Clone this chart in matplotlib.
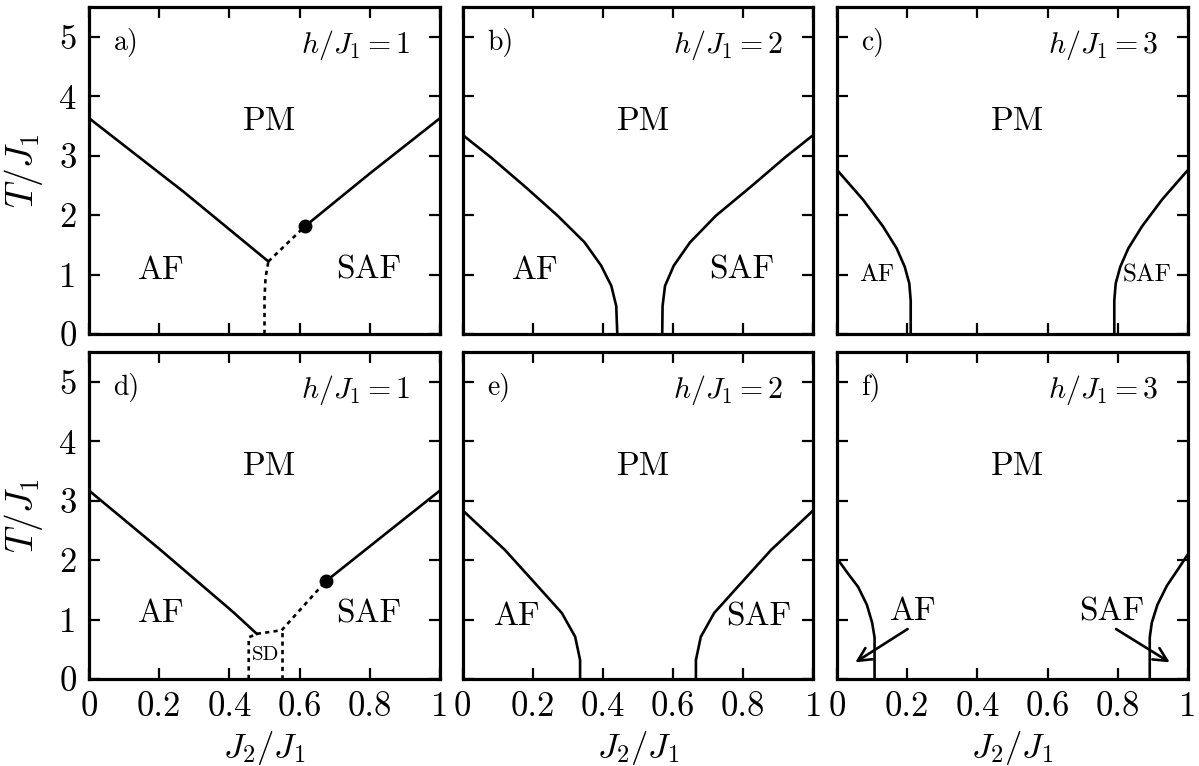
import matplotlib
matplotlib.use("Agg")
import matplotlib.pyplot as plt

plt.rcParams.update({
    "font.family": "serif",
    "font.serif": ["cmr10"],
    "mathtext.fontset": "cm",
    "axes.formatter.use_mathtext": True,
    "axes.unicode_minus": False,
})

# ---- phase boundaries (x = J2/J1, y = T/J1) ----
# a) h/J1 = 1
a_af_x = [0.0, 0.27, 0.511]
a_af_y = [3.63, 2.39, 1.22]
a_saf_x = [0.615, 0.798, 1.0]
a_saf_y = [1.81, 2.69, 3.63]
a_dash1_x = [0.50, 0.50, 0.503, 0.511]
a_dash1_y = [0.0, 0.6, 0.95, 1.22]
a_dash2_x = [0.511, 0.615]
a_dash2_y = [1.22, 1.81]
a_point = (0.615, 1.81)

# b) h/J1 = 2
b_y = [3.35, 2.97, 2.49, 1.99, 1.54, 1.15, 0.81, 0.47, 0.0]
b_af_x = [0.0, 0.081, 0.176, 0.271, 0.348, 0.395, 0.424, 0.438, 0.441]
b_saf_x = [1.0, 0.919, 0.824, 0.722, 0.648, 0.602, 0.577, 0.570, 0.569]

# c) h/J1 = 3
c_y = [2.76, 2.26, 1.81, 1.44, 1.13, 0.85, 0.56, 0.0]
c_af_x = [0.0, 0.074, 0.131, 0.170, 0.193, 0.206, 0.210, 0.210]
c_saf_x = [1.0, 0.926, 0.869, 0.830, 0.807, 0.794, 0.790, 0.790]

# d) h/J1 = 1
d_af_x = [0.0, 0.20, 0.41, 0.478]
d_af_y = [3.17, 2.19, 1.13, 0.76]
d_saf_x = [0.674, 0.84, 1.0]
d_saf_y = [1.64, 2.42, 3.17]
d_sd_left_x = [0.455, 0.455, 0.478]
d_sd_left_y = [0.0, 0.70, 0.76]
d_sd_top_x = [0.478, 0.549]
d_sd_top_y = [0.76, 0.82]
d_sd_right_x = [0.549, 0.549]
d_sd_right_y = [0.0, 0.82]
d_dash_x = [0.549, 0.674]
d_dash_y = [0.82, 1.64]
d_point = (0.674, 1.64)

# e) h/J1 = 2
e_y = [2.84, 2.17, 1.55, 1.11, 0.71, 0.32, 0.0]
e_af_x = [0.0, 0.121, 0.216, 0.283, 0.321, 0.335, 0.335]
e_saf_x = [1.0, 0.879, 0.784, 0.717, 0.679, 0.665, 0.665]

# f) h/J1 = 3
f_af_x = [0.0, 0.028, 0.060, 0.085, 0.100, 0.107, 0.107]
f_af_y = [2.03, 1.80, 1.55, 1.25, 0.95, 0.70, 0.0]
f_saf_x = [1.0, 0.972, 0.940, 0.913, 0.897, 0.891, 0.891]
f_saf_y = [2.10, 1.85, 1.57, 1.25, 0.95, 0.70, 0.0]

panel_tags = ["a)", "b)", "c)", "d)", "e)", "f)"]
field_values = [1, 2, 3, 1, 2, 3]
x_ticks = [0, 0.2, 0.4, 0.6, 0.8, 1]
x_tick_labels = ["0", "0.2", "0.4", "0.6", "0.8", "1"]
y_ticks = [0, 1, 2, 3, 4, 5]
y_tick_labels = ["0", "1", "2", "3", "4", "5"]

LW = 1.9
DOT = (0, (1.6, 1.6))
BIG = 24

fig = plt.figure(figsize=(11.99, 7.66), dpi=100)
lefts = [89 / 1199, 462.5 / 1199, 837 / 1199]
w = 351 / 1199
h = 327 / 766
bottoms = [(766 - 334) / 766, (766 - 679) / 766]

axes = []
for r in range(2):
    for c in range(3):
        ax = fig.add_axes([lefts[c], bottoms[r], w, h])
        axes.append(ax)

for i, ax in enumerate(axes):
    ax.set_xlim(0, 1)
    ax.set_ylim(0, 5.5)
    ax.set_xticks(x_ticks)
    ax.set_yticks(y_ticks)
    ax.tick_params(direction="in", which="both", top=True, right=True,
                   length=8, width=1.6, labelsize=25, pad=9)
    for s in ax.spines.values():
        s.set_linewidth(2.3)
    if i >= 3:
        ax.set_xticklabels(x_tick_labels)
        ax.set_xlabel(r"$J_2/J_1$", fontsize=25, labelpad=4)
    else:
        ax.set_xticklabels([])
    if i % 3 == 0:
        ax.set_yticklabels(y_tick_labels)
        ax.set_ylabel(r"$T/J_1$", fontsize=27, labelpad=10)
    else:
        ax.set_yticklabels([])
    ax.text(0.07, 4.9, panel_tags[i], fontsize=20, ha="left", va="center")
    ax.text(0.915, 4.86, r"$h/J_1 = %d$" % field_values[i], fontsize=21.5,
            ha="right", va="center")
    ax.text(0.515, 3.57, "PM", fontsize=BIG, ha="center", va="center")

axa, axb, axc, axd, axe, axf = axes

# a)
axa.plot(a_af_x, a_af_y, "k-", lw=LW)
axa.plot(a_saf_x, a_saf_y, "k-", lw=LW)
axa.plot(a_dash1_x, a_dash1_y, "k", lw=LW, ls=DOT)
axa.plot(a_dash2_x, a_dash2_y, "k", lw=LW, ls=DOT)
axa.plot(*a_point, "ko", ms=9)
axa.text(0.207, 1.07, "AF", fontsize=BIG, ha="center", va="center")
axa.text(0.796, 1.07, "SAF", fontsize=BIG, ha="center", va="center")

# b)
axb.plot(b_af_x, b_y, "k-", lw=LW)
axb.plot(b_saf_x, b_y, "k-", lw=LW)
axb.text(0.207, 1.07, "AF", fontsize=BIG, ha="center", va="center")
axb.text(0.796, 1.07, "SAF", fontsize=BIG, ha="center", va="center")

# c)
axc.plot(c_af_x, c_y, "k-", lw=LW)
axc.plot(c_saf_x, c_y, "k-", lw=LW)
axc.text(0.112, 0.99, "AF", fontsize=18, ha="center", va="center")
axc.text(0.883, 0.99, "SAF", fontsize=18, ha="center", va="center")

# d)
axd.plot(d_af_x, d_af_y, "k-", lw=LW)
axd.plot(d_saf_x, d_saf_y, "k-", lw=LW)
for xs, ys in [(d_sd_left_x, d_sd_left_y), (d_sd_top_x, d_sd_top_y),
               (d_sd_right_x, d_sd_right_y), (d_dash_x, d_dash_y)]:
    axd.plot(xs, ys, "k", lw=LW, ls=DOT)
axd.plot(*d_point, "ko", ms=9)
axd.text(0.207, 1.1, "AF", fontsize=BIG, ha="center", va="center")
axd.text(0.796, 1.1, "SAF", fontsize=BIG, ha="center", va="center")
axd.text(0.502, 0.41, "SD", fontsize=15, ha="center", va="center")

# e)
axe.plot(e_af_x, e_y, "k-", lw=LW)
axe.plot(e_saf_x, e_y, "k-", lw=LW)
axe.text(0.155, 1.05, "AF", fontsize=BIG, ha="center", va="center")
axe.text(0.843, 1.05, "SAF", fontsize=BIG, ha="center", va="center")

# f)
axf.plot(f_af_x, f_af_y, "k-", lw=LW)
axf.plot(f_saf_x, f_saf_y, "k-", lw=LW)
axf.text(0.218, 1.13, "AF", fontsize=BIG, ha="center", va="center")
axf.text(0.783, 1.13, "SAF", fontsize=BIG, ha="center", va="center")
arrow_kw = dict(arrowstyle="->", lw=1.9, color="k", mutation_scale=24,
                shrinkA=0, shrinkB=0)
axf.annotate("", xy=(0.052, 0.28), xytext=(0.201, 0.84), arrowprops=arrow_kw)
axf.annotate("", xy=(0.948, 0.28), xytext=(0.795, 0.84), arrowprops=arrow_kw)

fig.savefig("out.png", dpi=100)
